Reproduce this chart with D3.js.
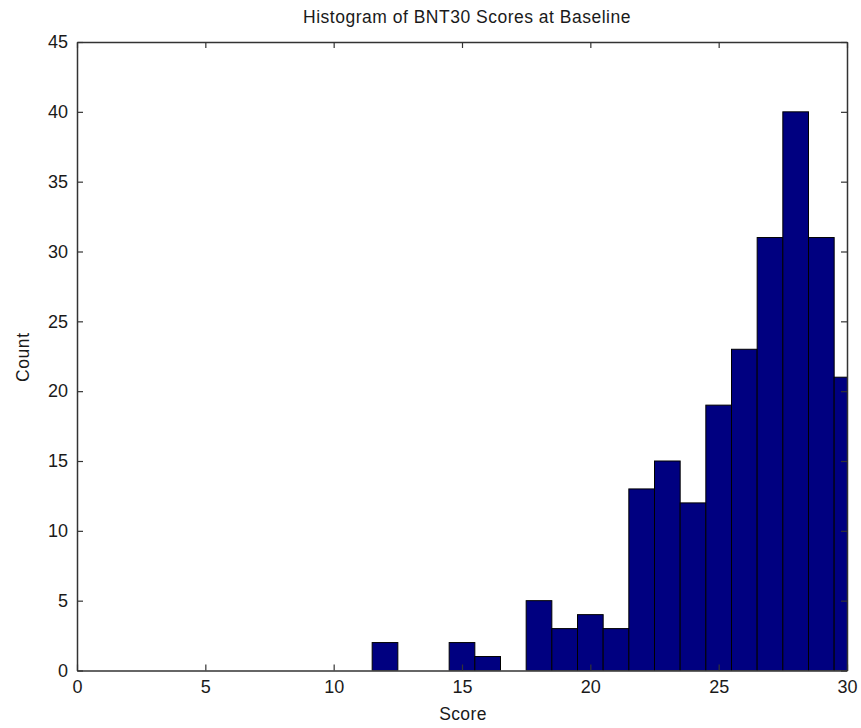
<!DOCTYPE html>
<html>
<head>
<meta charset="utf-8">
<script src="https://cdn.jsdelivr.net/npm/d3@7"></script>
<style>
  html, body { margin: 0; padding: 0; background: #fff; }
  svg { display: block; }
  text { font-family: "Liberation Sans", Arial, sans-serif; fill: #1a1a1a; }
</style>
</head>
<body>
<svg id="chart" width="861" height="728"></svg>
<script>
// Data (bin centres and counts)
const binCenters = [12, 15, 16, 18, 19, 20, 21, 22, 23, 24, 25, 26, 27, 28, 29, 30];
const counts     = [2, 2, 1, 5, 3, 4, 3, 13, 15, 12, 19, 23, 31, 40, 31, 21];
const xTicks = [0, 5, 10, 15, 20, 25, 30];
const yTicks = [0, 5, 10, 15, 20, 25, 30, 35, 40, 45];
const titleText = "Histogram of BNT30 Scores at Baseline";
const xLabel = "Score";
const yLabel = "Count";

const W = 861, H = 728;
const margin = { left: 77, top: 42, right: 14, bottom: 57.5 };
const iw = W - margin.left - margin.right;
const ih = H - margin.top - margin.bottom;

const svg = d3.select("#chart");
const x = d3.scaleLinear().domain([0, 30]).range([0, iw]);
const y = d3.scaleLinear().domain([0, 45]).range([ih, 0]);

svg.append("defs").append("clipPath").attr("id", "plotclip")
  .append("rect").attr("x", 0).attr("y", 0).attr("width", iw).attr("height", ih);

const g = svg.append("g").attr("transform", `translate(${margin.left},${margin.top})`);

// Bars
const data = binCenters.map((c, i) => ({ c, v: counts[i] }));
g.append("g").attr("clip-path", "url(#plotclip)")
  .selectAll("rect").data(data).join("rect")
  .attr("x", d => x(d.c - 0.5))
  .attr("y", d => y(d.v))
  .attr("width", d => x(d.c + 0.5) - x(d.c - 0.5))
  .attr("height", d => y(0) - y(d.v))
  .attr("fill", "#000080")
  .attr("stroke", "#000")
  .attr("stroke-width", 1);

const axisColor = "#333";
const tickLen = 6;

// Bottom axis
const xb = g.append("g").attr("transform", `translate(0,${ih})`)
  .call(d3.axisBottom(x).tickValues(xTicks).tickSizeInner(-tickLen).tickSizeOuter(0).tickPadding(9.5));
// Top axis
const xt = g.append("g")
  .call(d3.axisTop(x).tickValues(xTicks).tickSizeInner(-tickLen).tickSizeOuter(0).tickFormat(""));
// Left axis
const yl = g.append("g")
  .call(d3.axisLeft(y).tickValues(yTicks).tickSizeInner(-tickLen).tickSizeOuter(0).tickPadding(9));
// Right axis
const yr = g.append("g").attr("transform", `translate(${iw},0)`)
  .call(d3.axisRight(y).tickValues(yTicks).tickSizeInner(-tickLen).tickSizeOuter(0).tickFormat(""));

[xb, xt, yl, yr].forEach(a => {
  a.select(".domain").attr("stroke", axisColor).attr("stroke-width", 1.5);
  a.selectAll(".tick line").attr("stroke", axisColor).attr("stroke-width", 1.2);
  a.selectAll(".tick text").attr("font-size", 18).attr("fill", "#1a1a1a")
    .attr("font-family", "'Liberation Sans', Arial, sans-serif");
});

// Title
svg.append("text")
  .attr("x", 467).attr("y", 23)
  .attr("text-anchor", "middle").attr("font-size", 17.5)
  .attr("letter-spacing", 0.5)
  .text(titleText);

// X label
svg.append("text")
  .attr("x", margin.left + iw / 2 + 1).attr("y", 720)
  .attr("text-anchor", "middle").attr("font-size", 17.5)
  .attr("letter-spacing", 0.4)
  .text(xLabel);

// Y label
svg.append("text")
  .attr("transform", `translate(29,${margin.top + ih / 2 + 1}) rotate(-90)`)
  .attr("text-anchor", "middle").attr("font-size", 17.5)
  .attr("letter-spacing", 0.6)
  .text(yLabel);
</script>
</body>
</html>
